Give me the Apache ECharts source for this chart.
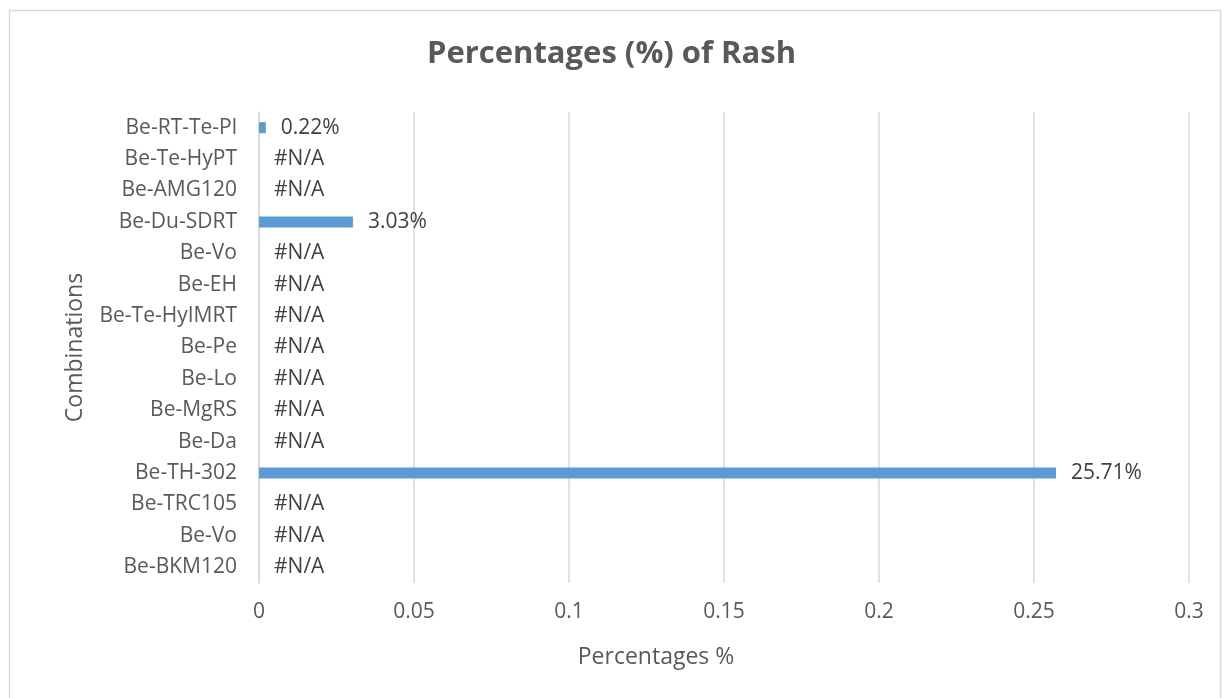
<!DOCTYPE html>
<html>
<head>
<meta charset="utf-8">
<script src="https://cdn.jsdelivr.net/npm/echarts@6/dist/echarts.min.js"></script>
<style>
  html, body { margin: 0; padding: 0; background: #ffffff; }
  #chart { width: 1223px; height: 698px; }
</style>
</head>
<body>
<div id="chart"></div>
<script>
// Treatment combinations, listed top to bottom
const combinations = [
  'Be-RT-Te-Pl', 'Be-Te-HyPT', 'Be-AMG120', 'Be-Du-SDRT', 'Be-Vo', 'Be-EH',
  'Be-Te-HyIMRT', 'Be-Pe', 'Be-Lo', 'Be-MgRS', 'Be-Da', 'Be-TH-302',
  'Be-TRC105', 'Be-Vo', 'Be-BKM120'
];
// Share of patients with rash (fraction); null = no data (#N/A)
const rashShare = [
  0.0022, null, null, 0.0303, null, null,
  null, null, null, null, null, 0.2571,
  null, null, null
];
const xTicks = [0, 0.05, 0.1, 0.15, 0.2, 0.25, 0.3];

const FONT = 'Open Sans';
const TEXT = '#595959';
const LINE = '#d9d9d9';

const seriesData = rashShare.map(v => v === null
  ? { value: 0, label: { formatter: '#N/A' } }
  : { value: v });

const chart = echarts.init(document.getElementById('chart'), null, { renderer: 'canvas' });
chart.setOption({
  backgroundColor: '#ffffff',
  animation: false,
  textStyle: { fontFamily: FONT },
  title: {
    text: 'Percentages (%) of Rash',
    left: 'center',
    top: 34,
    textStyle: { fontFamily: FONT, fontSize: 31, fontWeight: 'bold', color: TEXT }
  },
  graphic: [{
    type: 'rect',
    shape: { x: 9.5, y: 10.5, width: 1211, height: 700 },
    style: { fill: 'none', stroke: LINE, lineWidth: 1.5 },
    silent: true
  }],
  grid: { left: 259, right: 34, top: 112, bottom: 115, containLabel: false },
  xAxis: {
    type: 'value',
    min: xTicks[0],
    max: xTicks[xTicks.length - 1],
    interval: 0.05,
    name: 'Percentages %',
    nameLocation: 'middle',
    nameGap: 63,
    // the title sits centred on the whole chart, left of the plot centre
    nameTextStyle: { fontFamily: FONT, fontSize: 23, color: TEXT, padding: [0, 136, 0, 0] },
    axisLine: { show: false },
    axisTick: { show: false },
    axisLabel: {
      fontFamily: FONT, fontSize: 21, color: TEXT, margin: 19,
      formatter: v => String(+v.toFixed(2))
    },
    splitLine: { show: true, lineStyle: { color: LINE, width: 1.5 } }
  },
  yAxis: {
    type: 'category',
    data: combinations,
    inverse: true,
    name: 'Combinations',
    nameLocation: 'middle',
    nameGap: 172,
    nameRotate: 90,
    nameTextStyle: { fontFamily: FONT, fontSize: 23, color: TEXT },
    axisLine: { show: true, lineStyle: { color: LINE, width: 1.5 } },
    axisTick: { show: false },
    axisLabel: { fontFamily: FONT, fontSize: 21, color: TEXT, margin: 22 },
    splitLine: { show: false }
  },
  series: [{
    type: 'bar',
    data: seriesData,
    barWidth: 11,
    itemStyle: { color: '#5b9bd5' },
    label: {
      show: true,
      position: 'right',
      distance: 15,
      fontFamily: FONT,
      fontSize: 21,
      color: '#404040',
      formatter: p => (p.value * 100).toFixed(2) + '%'
    }
  }]
});
</script>
</body>
</html>
